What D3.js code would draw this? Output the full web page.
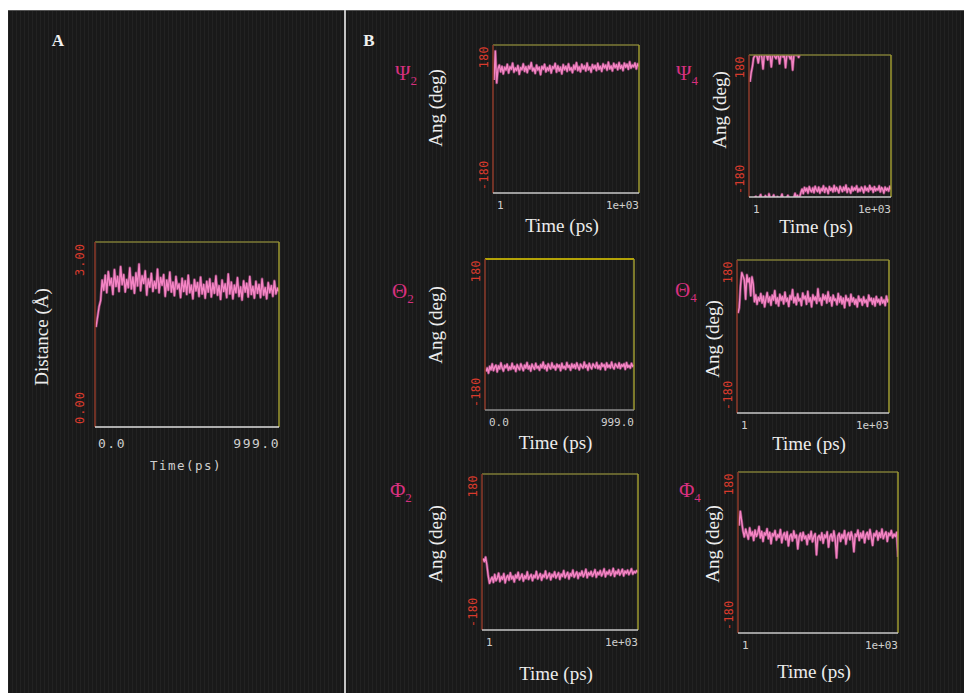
<!DOCTYPE html>
<html>
<head>
<meta charset="utf-8">
<script src="https://cdn.jsdelivr.net/npm/d3@7"></script>
<style>
  body { margin: 0; background: #fff; }
  svg { display: block; }
</style>
</head>
<body>
<svg id="chart"></svg>
<script>
// ---- data ----
// A: distance in Angstrom, sampled uniformly over 0..999 ps
var distA = [1.62, 1.78, 1.95, 2.05, 2.38, 2.22, 2.46, 2.18, 2.52, 2.30, 2.41, 2.15, 2.55, 2.28, 2.44, 2.20, 2.60, 2.31, 2.47, 2.19,
  2.39, 2.26, 2.58, 2.24, 2.43, 2.17, 2.50, 2.29, 2.64, 2.21, 2.45, 2.33, 2.53, 2.14, 2.40, 2.27, 2.49, 2.20, 2.36, 2.25,
  2.56, 2.18, 2.42, 2.30, 2.47, 2.12, 2.38, 2.22, 2.51, 2.19, 2.35, 2.13, 2.44, 2.24, 2.32, 2.10, 2.41, 2.20, 2.37, 2.15,
  2.46, 2.18, 2.30, 2.08, 2.39, 2.21, 2.34, 2.12, 2.43, 2.16, 2.31, 2.09, 2.36, 2.19, 2.40, 2.11, 2.33, 2.17, 2.45, 2.14,
  2.29, 2.07, 2.38, 2.20, 2.32, 2.10, 2.48, 2.16, 2.35, 2.08, 2.30, 2.18, 2.42, 2.12, 2.27, 2.06, 2.37, 2.19, 2.33, 2.11,
  2.44, 2.15, 2.28, 2.09, 2.36, 2.17, 2.31, 2.10, 2.40, 2.14, 2.26, 2.08, 2.34, 2.18, 2.29, 2.12, 2.37, 2.16, 2.25, 2.20];

// B: dihedral angles in degrees
var psi2 = [95, 165, 88, 122, 131, 115, 128, 110, 126, 119, 133, 112, 127, 121, 136, 114, 124, 118, 130, 109,
  125, 120, 134, 116, 127, 113, 129, 122, 137, 117, 124, 111, 131, 119, 126, 108, 128, 121, 133, 115,
  125, 118, 130, 112, 127, 123, 135, 114, 129, 117, 126, 110, 132, 120, 128, 116, 134, 119, 125, 113,
  131, 121, 137, 118, 127, 115, 133, 122, 129, 117, 136, 120, 126, 114, 132, 123, 130, 118, 135, 121,
  128, 116, 134, 124, 131, 119, 138, 122, 129, 117, 135, 125, 132, 120, 137, 123, 130, 118, 136, 126,
  133, 121, 139, 124, 131, 127, 136, 122, 134, 128];

var psi4 = [112, 135, 150, 172, 178, -179, 176, 160, 179, -174, 174, 145, 178, -177, 179, 168, -172, 177, 150, 179,
  -175, 176, 171, -179, 178, 158, 179, -173, 175, 179, 148, 178, -176, 177, 170, 179, 142, 178, -171, 179,
  -176, 174, -179, -168, -160, -171, -156, -165, -158, -170, -154, -163, -167, -157, -169, -153, -162, -166, -155, -170,
  -159, -164, -152, -168, -157, -161, -171, -154, -163, -158, -167, -151, -165, -156, -162, -169, -153, -160, -166, -155,
  -163, -150, -168, -158, -161, -170, -154, -164, -157, -162, -152, -167, -159, -165, -155, -160, -169, -153, -163, -158,
  -166, -151, -161, -157, -168, -154, -164, -159, -162, -152, -167, -156, -160, -170, -155, -163, -158, -165, -153, -161];

var theta2 = [-88, -80, -92, -76, -84, -70, -86, -78, -73, -89, -75, -82, -68, -80, -87, -74, -79, -71, -85, -77,
  -83, -69, -81, -76, -88, -72, -79, -84, -70, -78, -86, -73, -80, -67, -82, -75, -87, -71, -78, -83,
  -69, -80, -76, -85, -72, -79, -66, -81, -74, -86, -70, -77, -82, -68, -79, -75, -84, -71, -78, -73,
  -86, -69, -80, -76, -83, -67, -78, -74, -85, -70, -79, -72, -81, -68, -77, -84, -71, -76, -80, -66,
  -78, -73, -85, -69, -77, -82, -70, -75, -79, -67, -81, -74, -83, -69, -76, -72, -84, -68, -78, -73,
  -80, -66, -77, -82, -70, -75, -79, -68, -81, -72, -76, -70, -83, -67, -78, -74, -80, -69, -76, -73];

var theta4 = [55, 68, 120, 150, 142, 133, 88, 145, 128, 137, 96, 140, 124, 82, 98, 76, 92, 84, 101, 79,
  95, 70, 88, 103, 81, 93, 74, 97, 86, 108, 78, 91, 72, 99, 85, 94, 77, 104, 83, 90,
  71, 96, 87, 110, 80, 92, 75, 100, 84, 89, 73, 102, 88, 95, 76, 106, 82, 91, 70, 98,
  86, 93, 78, 112, 84, 90, 74, 99, 87, 96, 79, 105, 83, 92, 72, 97, 85, 88, 75, 101,
  81, 94, 77, 90, 68, 96, 84, 89, 73, 99, 82, 91, 76, 87, 70, 95, 83, 88, 74, 93,
  80, 86, 71, 97, 84, 90, 76, 89, 72, 94, 81, 87, 75, 92, 79, 86, 73, 95, 82, 88];

var phi2 = [-15, -22, -12, -30, -55, -72, -64, -58, -70, -52, -66, -60, -49, -68, -57, -63, -50, -71, -59, -54,
  -65, -48, -62, -56, -69, -53, -60, -47, -64, -58, -51, -67, -55, -61, -46, -63, -57, -52, -66, -54,
  -59, -45, -62, -56, -50, -65, -53, -58, -44, -61, -55, -49, -64, -52, -57, -46, -60, -54, -48, -63,
  -51, -56, -43, -59, -53, -47, -62, -50, -55, -42, -58, -52, -46, -61, -49, -54, -44, -57, -51, -40,
  -59, -48, -53, -45, -56, -50, -41, -58, -47, -52, -43, -55, -49, -39, -57, -46, -51, -42, -54, -48,
  -38, -56, -45, -50, -41, -53, -47, -40, -55, -44, -49, -42, -52, -46, -39, -51, -45, -48, -43, -47];

var phi4 = [60, 92, 70, 48, 35, 52, 41, 30, 55, 38, 46, 27, 50, 36, 43, 58, 33, 47, 25, 44,
  39, 53, 31, 45, 20, 42, 37, 49, 28, 40, 34, 51, 22, 38, 44, 29, 46, 15, 36, 41,
  26, 48, 33, 39, 8, 35, 43, 27, 45, 31, 37, 18, 40, 30, 47, 24, 36, 42, -5, 34,
  38, 28, 44, 21, 39, 33, 46, 12, 35, 41, 26, 48, 30, -12, 37, 43, 25, 40, 32, 49,
  19, 38, 44, 29, 46, 34, 2, 41, 36, 50, 27, 43, 33, 47, 22, 39, 45, 30, 51, 35,
  16, 42, 37, 48, 28, 44, 34, 52, 31, 40, 46, 25, 43, 38, 49, 33, 41, 36, 45, -10];

var yTicksA = ["0.00", "3.00"];
var yTicksAng = ["-180", "180"];
var xTicksPs = ["0.0", "999.0"];
var xTicksLog = ["1", "1e+03"];

// ---- layout ----
var W = 964, H = 693;
var svg = d3.select("#chart").attr("width", W).attr("height", H);

var defs = svg.append("defs");
var pat = defs.append("pattern").attr("id", "stripes")
  .attr("width", 4).attr("height", 8).attr("patternUnits", "userSpaceOnUse");
pat.append("rect").attr("width", 4).attr("height", 8).attr("fill", "#191919");
pat.append("rect").attr("x", 0).attr("width", 1).attr("height", 8).attr("fill", "#222");

svg.append("rect").attr("x", 8).attr("y", 10).attr("width", W - 8).attr("height", H - 10)
  .attr("fill", "url(#stripes)");
svg.append("line").attr("x1", 8).attr("x2", W).attr("y1", 10.5).attr("y2", 10.5)
  .attr("stroke", "#555").attr("stroke-width", 1);
svg.append("line").attr("x1", 345).attr("x2", 345).attr("y1", 10).attr("y2", H)
  .attr("stroke", "#c4c4c4").attr("stroke-width", 2);

svg.append("text").attr("x", 58).attr("y", 46).attr("text-anchor", "middle")
  .attr("font-family", "Liberation Serif").attr("font-weight", "bold").attr("font-size", 17)
  .attr("fill", "#f0f0f0").text("A");
svg.append("text").attr("x", 369).attr("y", 46).attr("text-anchor", "middle")
  .attr("font-family", "Liberation Serif").attr("font-weight", "bold").attr("font-size", 17)
  .attr("fill", "#f0f0f0").text("B");

var plots = [
  { id: "a", data: distA, domain: [0, 3], period: 0, box: [95, 242, 279, 427],
    yt: yTicksA, xt: xTicksPs, big: true, ytitle: "Distance (Å)", yx: 44, yy: 337,
    xtitle: "Time(ps)", xtY: 470, bottom: "#dedede" },
  { id: "psi2", data: psi2, domain: [-180, 180], period: 360, box: [493, 45, 639, 193],
    yt: yTicksAng, xt: xTicksLog, ytitle: "Ang (deg)", yx: 438, yy: 108, xtY: 232,
    greek: "Ψ", sub: "2", gx: 395, gy: 80 },
  { id: "psi4", data: psi4, domain: [-180, 180], period: 360, box: [749, 55, 891, 197],
    yt: yTicksAng, xt: xTicksLog, ytitle: "Ang (deg)", yx: 722, yy: 110, xtY: 233,
    greek: "Ψ", sub: "4", gx: 676, gy: 80 },
  { id: "theta2", data: theta2, domain: [-180, 180], period: 360, box: [485, 259, 634, 410],
    yt: yTicksAng, xt: xTicksPs, ytitle: "Ang (deg)", yx: 438, yy: 325, xtY: 449,
    greek: "Θ", sub: "2", gx: 392, gy: 298, top: "#e6d000", bottom: "#8c8c8c" },
  { id: "theta4", data: theta4, domain: [-180, 180], period: 360, box: [737, 260, 889, 413],
    yt: yTicksAng, xt: xTicksLog, ytitle: "Ang (deg)", yx: 715, yy: 339, xtY: 450,
    greek: "Θ", sub: "4", gx: 675, gy: 297 },
  { id: "phi2", data: phi2, domain: [-180, 180], period: 360, box: [482, 474, 638, 630],
    yt: yTicksAng, xt: xTicksLog, ytitle: "Ang (deg)", yx: 438, yy: 544, xtY: 680,
    greek: "Φ", sub: "2", gx: 390, gy: 497 },
  { id: "phi4", data: phi4, domain: [-180, 180], period: 360, box: [738, 472, 898, 633],
    yt: yTicksAng, xt: xTicksLog, ytitle: "Ang (deg)", yx: 715, yy: 544, xtY: 678,
    greek: "Φ", sub: "4", gx: 679, gy: 497 }
];

// split a periodic series where it wraps round, so each piece runs off the box edge
function pieces(vals, period) {
  var out = [], cur = [[0, vals[0]]];
  for (var i = 1; i < vals.length; i++) {
    var a = vals[i - 1], b = vals[i];
    if (period && Math.abs(b - a) > period / 2) {
      var s = b > a ? -period : period;
      cur.push([i, b + s]);
      out.push(cur);
      cur = [[i - 1, a - s], [i, b]];
    } else {
      cur.push([i, b]);
    }
  }
  out.push(cur);
  return out;
}

plots.forEach(function (p) {
  var x0 = p.box[0], y0 = p.box[1], x1 = p.box[2], y1 = p.box[3];
  var g = svg.append("g");

  var x = d3.scaleLinear().domain([0, p.data.length - 1]).range([x0 + 1, x1]);
  var y = d3.scaleLinear().domain(p.domain).range([y1, y0]);

  defs.append("clipPath").attr("id", "clip-" + p.id)
    .append("rect").attr("x", x0).attr("y", y0).attr("width", x1 - x0).attr("height", y1 - y0);

  var line = d3.line().x(function (d) { return x(d[0]); }).y(function (d) { return y(d[1]); });
  var segs = pieces(p.data, p.period);
  var trace = g.append("g").attr("clip-path", "url(#clip-" + p.id + ")");

  // darker pink under, bright pink over: gives the dense band look
  trace.selectAll("path.under").data(segs).enter().append("path").attr("class", "under")
    .attr("d", line).attr("fill", "none")
    .attr("stroke", "#b4508c").attr("stroke-width", 2.8).attr("stroke-opacity", 0.7)
    .attr("stroke-linejoin", "round");
  trace.selectAll("path.over").data(segs).enter().append("path").attr("class", "over")
    .attr("d", line).attr("fill", "none")
    .attr("stroke", "#f585c4").attr("stroke-width", 1.4).attr("stroke-linejoin", "round");

  // frame, each side its own colour
  g.append("line").attr("x1", x0).attr("x2", x1).attr("y1", y0).attr("y2", y0)
    .attr("stroke", p.top || "#7e7b36").attr("stroke-width", 1.5);
  g.append("line").attr("x1", x1).attr("x2", x1).attr("y1", y0).attr("y2", y1)
    .attr("stroke", "#9e9a30").attr("stroke-width", 1.5);
  g.append("line").attr("x1", x0).attr("x2", x0).attr("y1", y0).attr("y2", y1)
    .attr("stroke", "#8c3a2a").attr("stroke-width", 1.5);
  g.append("line").attr("x1", x0).attr("x2", x1).attr("y1", y1).attr("y2", y1)
    .attr("stroke", p.bottom || "#c8c8c8").attr("stroke-width", 1.5);

  var tfs = p.big ? 12 : 11.5;
  var off = p.big ? 15 : 9;
  // y tick labels, rotated
  g.append("text").attr("transform", "translate(" + (x0 - off) + "," + (y1 - 3) + ") rotate(-90)")
    .attr("text-anchor", "start").attr("dominant-baseline", "middle")
    .attr("font-family", "DejaVu Sans Mono").attr("font-size", tfs)
    .attr("letter-spacing", p.big ? 1 : 0.5)
    .attr("fill", "#d83a2c").text(p.yt[0]);
  g.append("text").attr("transform", "translate(" + (x0 - off) + "," + (y0 + 1) + ") rotate(-90)")
    .attr("text-anchor", "end").attr("dominant-baseline", "middle")
    .attr("font-family", "DejaVu Sans Mono").attr("font-size", tfs)
    .attr("letter-spacing", p.big ? 1 : 0.5)
    .attr("fill", "#d83a2c").text(p.yt[1]);

  // x tick labels
  var xty = p.big ? y1 + 21 : y1 + 16;
  g.append("text").attr("x", x0 + (p.big ? 3 : 4)).attr("y", xty)
    .attr("font-family", "DejaVu Sans Mono").attr("font-size", p.big ? 13 : 11)
    .attr("letter-spacing", p.big ? 1.5 : 0)
    .attr("fill", "#cfcfcf").text(p.xt[0]);
  g.append("text").attr("x", x1 + (p.big ? 1 : 0)).attr("y", xty).attr("text-anchor", "end")
    .attr("font-family", "DejaVu Sans Mono").attr("font-size", p.big ? 13 : 11)
    .attr("letter-spacing", p.big ? 1.5 : 0)
    .attr("fill", "#cfcfcf").text(p.xt[1]);

  // axis titles
  if (p.big) {
    g.append("text").attr("x", (x0 + x1) / 2 - 1).attr("y", p.xtY).attr("text-anchor", "middle")
      .attr("font-family", "DejaVu Sans Mono").attr("font-size", 12.5).attr("letter-spacing", 1.5)
      .attr("fill", "#cfcfcf").text(p.xtitle);
  } else {
    g.append("text").attr("x", (x0 + x1) / 2 - 4).attr("y", p.xtY).attr("text-anchor", "middle")
      .attr("font-family", "Liberation Serif").attr("font-size", 19)
      .attr("fill", "#ececec").text("Time (ps)");
  }
  g.append("text").attr("transform", "translate(" + p.yx + "," + p.yy + ") rotate(-90)")
    .attr("text-anchor", "middle").attr("dominant-baseline", "middle")
    .attr("font-family", "Liberation Serif").attr("font-size", 19)
    .attr("fill", "#ececec").text(p.ytitle);

  if (p.greek) {
    var t = g.append("text").attr("x", p.gx).attr("y", p.gy)
      .attr("font-family", "Liberation Serif").attr("font-size", 21).attr("fill", "#d6307e");
    t.append("tspan").text(p.greek);
    t.append("tspan").attr("font-size", 13).attr("dy", 5).text(p.sub);
  }
});
</script>
</body>
</html>
